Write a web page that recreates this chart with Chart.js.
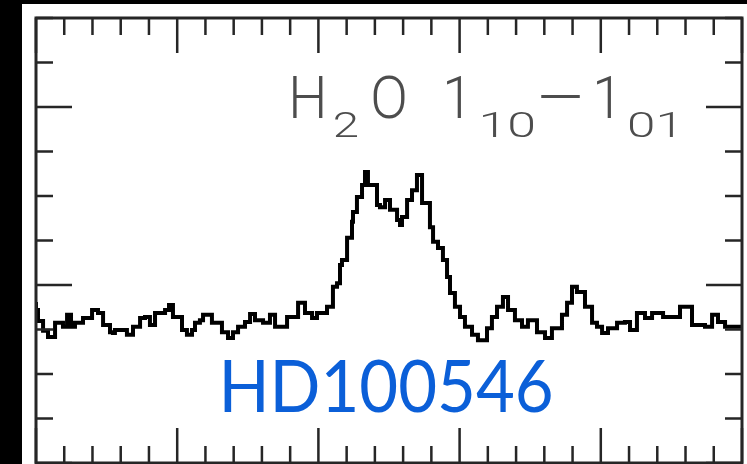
<!DOCTYPE html>
<html>
<head>
<meta charset="utf-8">
<script src="https://cdn.jsdelivr.net/npm/chart.js@4.4.0/dist/chart.umd.min.js"></script>
<style>
  html, body { margin: 0; padding: 0; background: #000; }
  #wrap { width: 747px; height: 464px; }
</style>
</head>
<body>
<div id="wrap"><canvas id="spec"></canvas></div>
<script>
// channel start velocities (km/s) and line temperature (mK)
var velocity = [
  -20.00, -19.86, -19.50, -19.15, -18.65, -18.09, -17.80, -17.52, -17.24, -16.67,
  -16.03, -15.61, -15.25, -14.76, -14.55, -14.41, -13.56, -13.13, -12.63, -12.28,
  -11.93, -11.57, -10.86, -10.58, -10.30, -9.66, -9.31, -8.95, -8.74, -8.39,
  -8.17, -7.54, -6.83, -6.40, -6.05, -5.69, -5.20, -4.84, -4.49, -3.92,
  -3.43, -3.07, -2.22, -1.44, -0.95, -0.45, -0.10, 0.61, 1.03, 1.32,
  1.53, 1.67, 2.03, 2.38, 2.45, 2.73, 3.09, 3.30, 3.51, 4.15,
  4.36, 4.72, 5.07, 5.57, 5.78, 5.92, 6.28, 6.63, 6.98, 7.34,
  7.90, 8.12, 8.47, 8.82, 9.11, 9.32, 9.67, 10.03, 10.38, 10.88,
  11.30, 11.94, 12.29, 12.65, 13.07, 13.43, 13.92, 14.42, 14.84, 15.48,
  16.05, 16.54, 17.25, 17.61, 17.96, 18.31, 18.88, 19.38, 19.73, 20.09,
  20.51, 21.15, 21.71, 22.07, 22.56, 23.13, 23.63, 24.41, 25.61, 26.46,
  27.38, 27.88, 28.30, 28.80, 29.36, 30.00
];
var flux = [
  -3.8, -5.6, -8.1, -10.3, -11.7, -8.5, -9.4, -6.7, -9.4, -8.5,
  -7.4, -5.6, -6.3, -9.0, -10.6, -10.8, -10.1, -11.2, -9.4, -7.4,
  -7.2, -9.0, -6.3, -5.6, -4.5, -7.2, -10.1, -11.2, -10.1, -8.5,
  -7.9, -6.7, -8.5, -10.6, -11.9, -10.6, -9.4, -8.3, -6.5, -7.9,
  -8.5, -6.7, -9.4, -7.2, -4.0, -6.3, -7.4, -6.3, -4.9, -0.4,
  0.4, 4.5, 5.6, 10.6, 14.2, 16.4, 19.8, 22.5, 25.4, 22.5,
  18.0, 17.5, 19.1, 16.9, 14.6, 13.5, 15.3, 19.1, 21.3, 24.7,
  18.4, 13.0, 9.7, 8.3, 5.6, 1.8, -1.8, -4.9, -7.2, -9.4,
  -11.2, -12.4, -9.7, -7.2, -4.9, -2.7, -5.6, -7.9, -9.4, -7.9,
  -10.6, -11.9, -9.7, -6.7, -4.0, -0.4, -1.6, -4.9, -8.5, -9.4,
  -10.8, -9.7, -8.5, -8.3, -10.1, -6.3, -7.4, -6.3, -7.2, -4.9,
  -9.0, -9.4, -6.7, -8.3, -9.4, -9.4
];

var xRange = [-20, 30];   // km/s
var xMinor = 2, xMajor = 10;
var yRange = [-40, 60];   // mK
var yMinor = 10, yMajor = 40;

var lineLabel = ['H', '2', 'O', '1', '10', '\u2212', '1', '01'];
var sourceName = 'HD100546';

var points = velocity.map(function (v, i) { return {x: v, y: flux[i]}; });

// draw text so its ink spans x0..x0+w
function fitText(c, text, font, x0, base, w) {
    c.font = font;
    var m = c.measureText(text);
    var ink = m.actualBoundingBoxLeft + m.actualBoundingBoxRight;
    c.save();
    c.translate(x0, base);
    c.scale(w / ink, 1);
    c.fillText(text, m.actualBoundingBoxLeft, 0);
    c.restore();
}

// Panel, inward ticks and the two labels
var framePlugin = {
    id: 'frame',
    beforeDraw: function (chart) {
        var c = chart.ctx;
        c.save();
        c.fillStyle = '#000';
        c.fillRect(0, 0, chart.width, chart.height);
        c.fillStyle = '#fff';
        c.fillRect(22, 4, chart.width - 22, chart.height - 4);
        c.restore();
    },
    afterDraw: function (chart) {
        var c = chart.ctx, a = chart.chartArea;
        var sx = chart.scales.x, sy = chart.scales.y;
        var v, p, len;
        c.save();
        c.strokeStyle = '#262626';
        c.lineWidth = 2.5;
        c.beginPath();
        for (v = xRange[0]; v <= xRange[1] + 1e-6; v += xMinor) {
            p = sx.getPixelForValue(v);
            len = (v % xMajor === 0) ? 35 : 17;
            c.moveTo(p, a.top); c.lineTo(p, a.top + len);
            c.moveTo(p, a.bottom); c.lineTo(p, a.bottom - len);
        }
        for (v = yRange[0]; v <= yRange[1] + 1e-6; v += yMinor) {
            p = sy.getPixelForValue(v);
            len = (v % yMajor === 0) ? 36 : 17;
            c.moveTo(a.left, p); c.lineTo(a.left + len, p);
            c.moveTo(a.right, p); c.lineTo(a.right - len, p);
        }
        c.stroke();
        c.lineWidth = 3;
        c.strokeRect(a.left, a.top, a.right - a.left, a.bottom - a.top);

        // transition label: [text, left, baseline, ink width, size]
        var parts = [
            [lineLabel[0], 293, 118, 30, 59], [lineLabel[1], 334, 137, 23, 35],
            [lineLabel[2], 373, 118, 32, 59], [lineLabel[3], 447, 118, 14, 59],
            [lineLabel[4], 483, 137, 51, 35], [lineLabel[5], 540, 118, 40, 59],
            [lineLabel[6], 597, 118, 14, 59], [lineLabel[7], 630, 137, 43, 35]
        ];
        c.fillStyle = '#4d4d4d';
        c.textBaseline = 'alphabetic';
        c.textAlign = 'left';
        parts.forEach(function (t) {
            fitText(c, t[0], '300 ' + t[4] + 'px Roboto, "DejaVu Sans", sans-serif', t[1], t[2], t[3]);
        });

        // source name
        c.fillStyle = '#0b5fd8';
        fitText(c, sourceName, '72px Lato, "Open Sans", sans-serif', 224, 412, 327);
        c.restore();
    }
};

var ctx = document.getElementById('spec').getContext('2d');
var chart = new Chart(ctx, {
    type: 'line',
    data: {
        datasets: [{
            data: points,
            stepped: 'after',
            borderColor: '#000',
            borderWidth: 4,
            pointRadius: 0,
            fill: false
        }]
    },
    options: {
        responsive: true,
        maintainAspectRatio: false,
        animation: false,
        layout: { padding: { left: 36, top: 18, right: 5, bottom: 1 } },
        plugins: { legend: { display: false }, tooltip: { enabled: false } },
        scales: {
            x: { type: 'linear', min: xRange[0], max: xRange[1], display: false },
            y: { type: 'linear', min: yRange[0], max: yRange[1], display: false }
        }
    },
    plugins: [framePlugin]
});
</script>
</body>
</html>
